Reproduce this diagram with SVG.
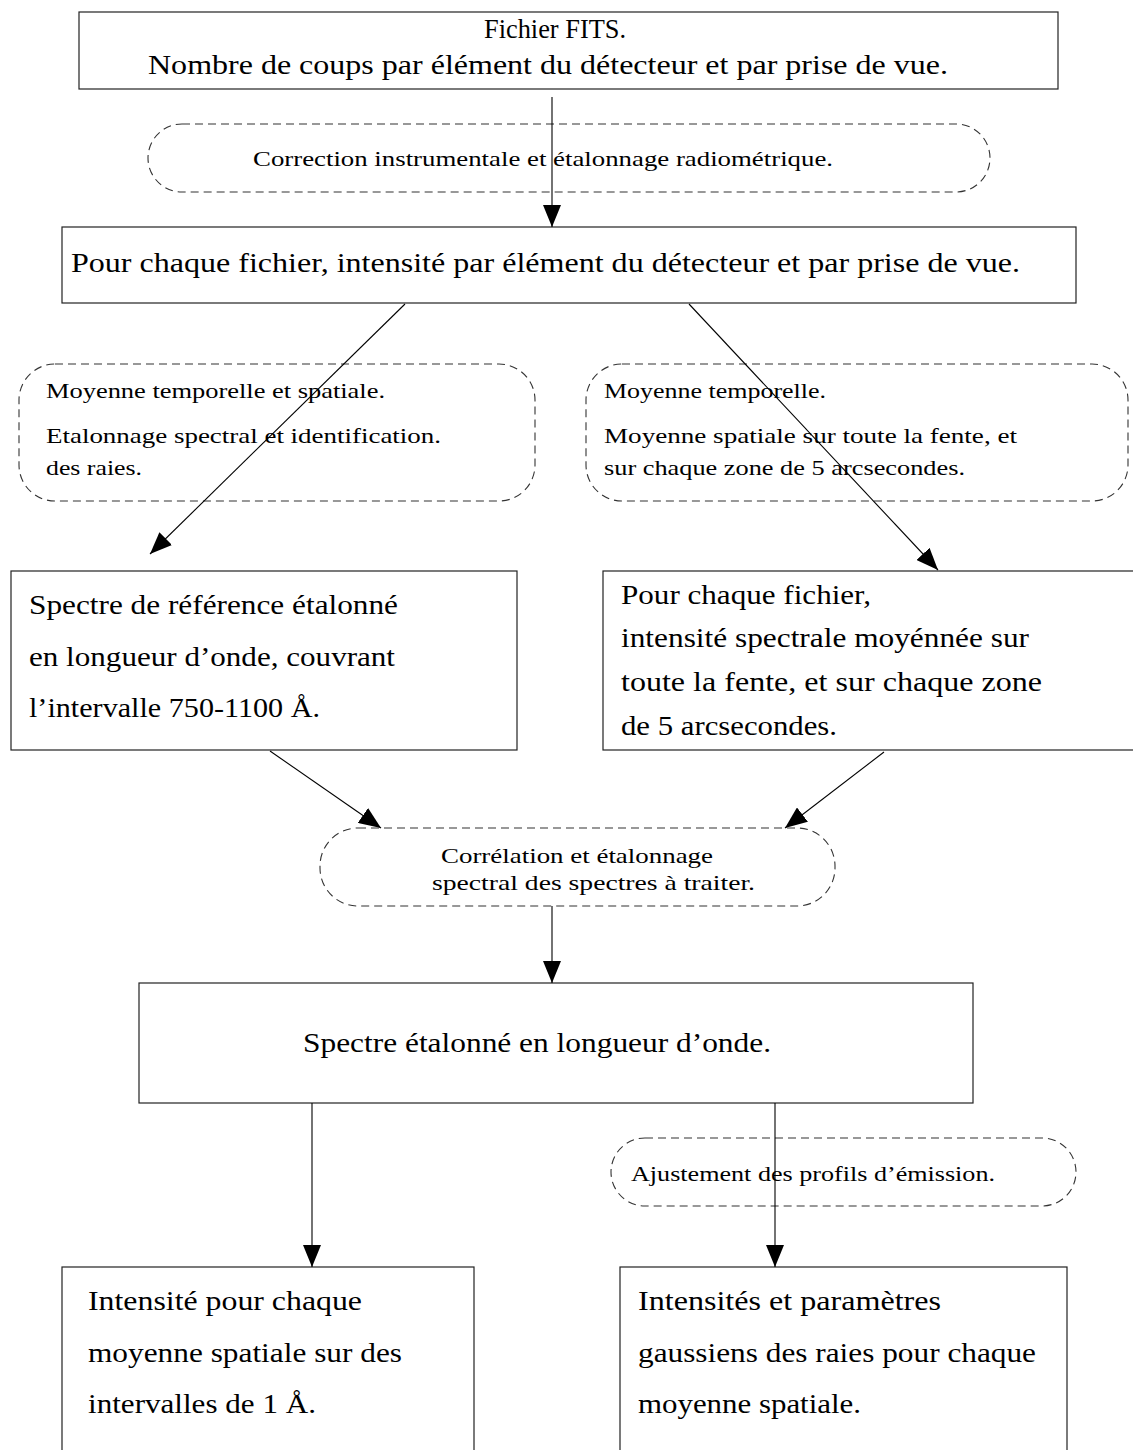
<svg xmlns="http://www.w3.org/2000/svg" width="1133" height="1450" viewBox="0 0 1133 1450">
<style>
.box{fill:#fff;stroke:#222;stroke-width:1.2}
.dash{fill:none;stroke:#333;stroke-width:1.1;stroke-dasharray:8 5}
.L{font-family:"Liberation Serif","DejaVu Serif",serif;font-size:28px;fill:#000}
.S{font-family:"Liberation Serif","DejaVu Serif",serif;font-size:21px;fill:#000}
.c{stroke:#000;stroke-width:1.1;fill:none}
</style>
<defs>
<marker id="ah" markerUnits="userSpaceOnUse" markerWidth="24" markerHeight="18" refX="22" refY="9" orient="auto">
<path d="M0,0 L22,9 L0,18 Z" fill="#000"/>
</marker>
</defs>
<rect width="1133" height="1450" fill="#fff"/>

<g id="n1">
<rect class="box" x="79" y="12" width="979" height="77"/>
<text class="L" x="484" y="38" textLength="142" lengthAdjust="spacingAndGlyphs">Fichier FITS.</text>
<text class="L" x="148" y="74" textLength="800" lengthAdjust="spacingAndGlyphs">Nombre de coups par élément du détecteur et par prise de vue.</text>
</g>

<g id="e1">
<rect class="dash" x="148" y="124" width="842" height="68" rx="34"/>
<text class="S" x="253" y="166" textLength="580" lengthAdjust="spacingAndGlyphs">Correction instrumentale et étalonnage radiométrique.</text>
</g>

<g id="n2">
<rect class="box" x="62" y="227" width="1014" height="76"/>
<text class="L" x="71" y="272" textLength="949" lengthAdjust="spacingAndGlyphs">Pour chaque fichier, intensité par élément du détecteur et par prise de vue.</text>
</g>

<g id="e2">
<rect class="dash" x="19" y="364" width="516" height="137" rx="36"/>
<text class="S" x="46" y="398" textLength="339" lengthAdjust="spacingAndGlyphs">Moyenne temporelle et spatiale.</text>
<text class="S" x="46" y="443" textLength="395" lengthAdjust="spacingAndGlyphs">Etalonnage spectral et identification.</text>
<text class="S" x="46" y="475" textLength="96" lengthAdjust="spacingAndGlyphs">des raies.</text>
</g>

<g id="e3">
<rect class="dash" x="586" y="364" width="542" height="137" rx="36"/>
<text class="S" x="604" y="398" textLength="222" lengthAdjust="spacingAndGlyphs">Moyenne temporelle.</text>
<text class="S" x="604" y="443" textLength="413" lengthAdjust="spacingAndGlyphs">Moyenne spatiale sur toute la fente, et</text>
<text class="S" x="604" y="475" textLength="361" lengthAdjust="spacingAndGlyphs">sur chaque zone de 5 arcsecondes.</text>
</g>

<g id="n3">
<rect class="box" x="11" y="571" width="506" height="179"/>
<text class="L" x="29" y="614" textLength="369" lengthAdjust="spacingAndGlyphs">Spectre de référence étalonné</text>
<text class="L" x="29" y="666" textLength="366" lengthAdjust="spacingAndGlyphs">en longueur d’onde, couvrant</text>
<text class="L" x="29" y="717" textLength="291" lengthAdjust="spacingAndGlyphs">l’intervalle 750-1100 Å.</text>
</g>

<g id="n4">
<rect class="box" x="603" y="571" width="540" height="179"/>
<text class="L" x="621" y="604" textLength="250" lengthAdjust="spacingAndGlyphs">Pour chaque fichier,</text>
<text class="L" x="621" y="647" textLength="408" lengthAdjust="spacingAndGlyphs">intensité spectrale moyénnée sur</text>
<text class="L" x="621" y="691" textLength="421" lengthAdjust="spacingAndGlyphs">toute la fente, et sur chaque zone</text>
<text class="L" x="621" y="735" textLength="216" lengthAdjust="spacingAndGlyphs">de 5 arcsecondes.</text>
</g>

<g id="e4">
<rect class="dash" x="320" y="828" width="515" height="78" rx="38"/>
<text class="S" x="441" y="863" textLength="272" lengthAdjust="spacingAndGlyphs">Corrélation et étalonnage</text>
<text class="S" x="432" y="890" textLength="323" lengthAdjust="spacingAndGlyphs">spectral des spectres à traiter.</text>
</g>

<g id="n5">
<rect class="box" x="139" y="983" width="834" height="120"/>
<text class="L" x="303" y="1052" textLength="468" lengthAdjust="spacingAndGlyphs">Spectre étalonné en longueur d’onde.</text>
</g>

<g id="e5">
<rect class="dash" x="611" y="1138" width="465" height="68" rx="34"/>
<text class="S" x="631" y="1181" textLength="364" lengthAdjust="spacingAndGlyphs">Ajustement des profils d’émission.</text>
</g>

<g id="n6">
<rect class="box" x="62" y="1267" width="412" height="200"/>
<text class="L" x="88" y="1310" textLength="274" lengthAdjust="spacingAndGlyphs">Intensité pour chaque</text>
<text class="L" x="88" y="1362" textLength="314" lengthAdjust="spacingAndGlyphs">moyenne spatiale sur des</text>
<text class="L" x="88" y="1413" textLength="228" lengthAdjust="spacingAndGlyphs">intervalles de 1 Å.</text>
</g>

<g id="n7">
<rect class="box" x="620" y="1267" width="447" height="200"/>
<text class="L" x="638" y="1310" textLength="303" lengthAdjust="spacingAndGlyphs">Intensités et paramètres</text>
<text class="L" x="638" y="1362" textLength="398" lengthAdjust="spacingAndGlyphs">gaussiens des raies pour chaque</text>
<text class="L" x="638" y="1413" textLength="223" lengthAdjust="spacingAndGlyphs">moyenne spatiale.</text>
</g>

<g id="connectors">
<line class="c" x1="552" y1="97" x2="552" y2="227" marker-end="url(#ah)"/>
<line class="c" x1="405" y1="304" x2="150" y2="554" marker-end="url(#ah)"/>
<line class="c" x1="689" y1="304" x2="938" y2="570" marker-end="url(#ah)"/>
<line class="c" x1="270" y1="751" x2="381" y2="828" marker-end="url(#ah)"/>
<line class="c" x1="884" y1="752" x2="785" y2="828" marker-end="url(#ah)"/>
<line class="c" x1="552" y1="906" x2="552" y2="983" marker-end="url(#ah)"/>
<line class="c" x1="312" y1="1103" x2="312" y2="1267" marker-end="url(#ah)"/>
<line class="c" x1="775" y1="1103" x2="775" y2="1267" marker-end="url(#ah)"/>
</g>
</svg>
